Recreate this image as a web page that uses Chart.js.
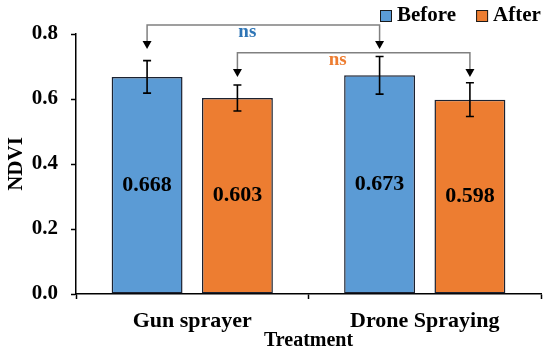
<!DOCTYPE html>
<html>
<head>
<meta charset="utf-8">
<script src="https://cdn.jsdelivr.net/npm/chart.js@4.4.0/dist/chart.umd.min.js"></script>
<style>
  html, body { margin: 0; padding: 0; background: #ffffff; }
  #ndviChart { display: block; }
</style>
</head>
<body>
<canvas id="ndviChart" width="550" height="361"></canvas>
<script>
'use strict';

// ********************* DATA *********************

let categories = ['Gun sprayer', 'Drone Spraying'];
let seriesNames = ['Before', 'After'];
let beforeValues = [0.668, 0.673];
let afterValues = [0.603, 0.598];
let beforeErrors = [0.05, 0.058];
let afterErrors = [0.04, 0.052];
let yTickValues = [0.0, 0.2, 0.4, 0.6, 0.8];

// comparison brackets: same series, gun vs drone
let bracketSeries = [0, 1];
let bracketLabels = ['ns', 'ns'];
let bracketLevels = [0.828, 0.742];
let bracketTips = [0.754, 0.668];

// ********************* STYLE *********************

const SERIF = '"Liberation Serif", "Times New Roman", serif';
let barColors = ['#5B9BD5', '#ED7D31'];
let nsColors = ['#2E75B6', '#ED7D31'];

let ctx = document.getElementById('ndviChart');

// ******************* PLUGINS ***********************

const errorBarsPlugin = {
  id: 'errorBars',
  afterDatasetsDraw(chart) {
    const c = chart.ctx;
    const y = chart.scales.y;
    const errs = [beforeErrors, afterErrors];
    c.save();
    c.strokeStyle = '#000';
    c.lineWidth = 1.6;
    chart.data.datasets.forEach((ds, d) => {
      const meta = chart.getDatasetMeta(d);
      meta.data.forEach((bar, i) => {
        const top = y.getPixelForValue(ds.data[i] + errs[d][i]);
        const bot = y.getPixelForValue(ds.data[i] - errs[d][i]);
        c.beginPath();
        c.moveTo(bar.x, top);
        c.lineTo(bar.x, bot);
        c.moveTo(bar.x - 4, top);
        c.lineTo(bar.x + 4, top);
        c.moveTo(bar.x - 4, bot);
        c.lineTo(bar.x + 4, bot);
        c.stroke();
      });
    });
    c.restore();
  }
};

const valueLabelPlugin = {
  id: 'valueLabels',
  afterDatasetsDraw(chart) {
    const c = chart.ctx;
    c.save();
    c.fillStyle = '#000';
    c.font = 'bold 22px ' + SERIF;
    c.textAlign = 'center';
    c.textBaseline = 'middle';
    chart.data.datasets.forEach((ds, d) => {
      chart.getDatasetMeta(d).data.forEach((bar, i) => {
        c.fillText(ds.data[i].toFixed(3), bar.x, (bar.y + bar.base) / 2);
      });
    });
    c.restore();
  }
};

const bracketPlugin = {
  id: 'brackets',
  afterDraw(chart) {
    const c = chart.ctx;
    const y = chart.scales.y;
    c.save();
    bracketSeries.forEach((d, k) => {
      const bars = chart.getDatasetMeta(d).data;
      const x1 = bars[0].x;
      const x2 = bars[1].x;
      const ly = y.getPixelForValue(bracketLevels[k]);
      const ty = y.getPixelForValue(bracketTips[k]);
      c.strokeStyle = '#808080';
      c.lineWidth = 1.5;
      c.beginPath();
      c.moveTo(x1, ty - 7);
      c.lineTo(x1, ly);
      c.lineTo(x2, ly);
      c.lineTo(x2, ty - 7);
      c.stroke();
      c.fillStyle = '#000';
      [x1, x2].forEach(x => {
        c.beginPath();
        c.moveTo(x - 4.5, ty - 8);
        c.lineTo(x + 4.5, ty - 8);
        c.lineTo(x, ty);
        c.closePath();
        c.fill();
      });
      c.fillStyle = nsColors[k];
      c.font = 'bold 19px ' + SERIF;
      c.textAlign = 'center';
      c.textBaseline = 'middle';
      c.fillText(bracketLabels[k], (x1 + x2) / 2 - 16, ly + 7);
    });
    c.restore();
  }
};

const legendPlugin = {
  id: 'customLegend',
  afterDraw(chart) {
    const c = chart.ctx;
    c.save();
    c.font = 'bold 21px ' + SERIF;
    c.textBaseline = 'middle';
    c.textAlign = 'left';
    let x = 380;
    const cy = 16;
    chart.data.datasets.forEach(ds => {
      c.fillStyle = ds.backgroundColor;
      c.fillRect(x, cy - 6, 12, 12);
      c.strokeStyle = '#1a1a1a';
      c.lineWidth = 1;
      c.strokeRect(x + 0.5, cy - 5.5, 11, 11);
      c.fillStyle = '#000';
      c.fillText(ds.label, x + 17, cy);
      x += 17 + c.measureText(ds.label).width + 20;
    });
    c.restore();
  }
};

// ******************* RENDER CHART ***************************

let chartObj = {
  type: 'bar',
  data: {
    labels: categories,
    datasets: [{
      label: seriesNames[0],
      data: beforeValues,
      backgroundColor: barColors[0],
      borderColor: '#1c2230',
      borderWidth: 1.5,
      borderSkipped: false
    },
    {
      label: seriesNames[1],
      data: afterValues,
      backgroundColor: barColors[1],
      borderColor: '#1c2230',
      borderWidth: 1.5,
      borderSkipped: false
    }]
  },
  options: {
    responsive: false,
    animation: false,
    layout: { padding: { top: 34, right: 9, left: 0, bottom: 0 } },
    datasets: {
      bar: { categoryPercentage: 0.777, barPercentage: 0.785 }
    },
    plugins: {
      legend: { display: false },
      tooltip: { enabled: false }
    },
    scales: {
      x: {
        afterFit: s => { s.height = 67; },
        grid: {
          offset: true,
          drawOnChartArea: false,
          tickLength: 5,
          color: '#000',
          tickWidth: 1.5
        },
        border: { color: '#000', width: 1.5 },
        ticks: {
          color: '#000',
          padding: 9,
          font: { family: SERIF, size: 22, weight: 'bold' }
        },
        title: {
          display: true,
          text: 'Treatment',
          color: '#000',
          padding: { top: 0, bottom: 8 },
          font: { family: SERIF, size: 20, weight: 'bold' }
        }
      },
      y: {
        min: 0,
        max: 0.8,
        afterFit: s => { s.width = 76; },
        afterBuildTicks: s => { s.ticks = yTickValues.map(v => ({ value: v })); },
        grid: {
          drawOnChartArea: false,
          tickLength: 5,
          color: '#000',
          tickWidth: 1.5
        },
        border: { color: '#000', width: 1.5 },
        ticks: {
          color: '#000',
          padding: 13,
          callback: v => Number(v).toFixed(1),
          font: { family: SERIF, size: 21, weight: 'bold' }
        },
        title: {
          display: true,
          text: 'NDVI',
          color: '#000',
          padding: { top: 4, bottom: 0 },
          font: { family: SERIF, size: 21, weight: 'bold' }
        }
      }
    }
  },
  plugins: [errorBarsPlugin, valueLabelPlugin, bracketPlugin, legendPlugin]
};

new Chart(ctx, chartObj);
</script>
</body>
</html>
